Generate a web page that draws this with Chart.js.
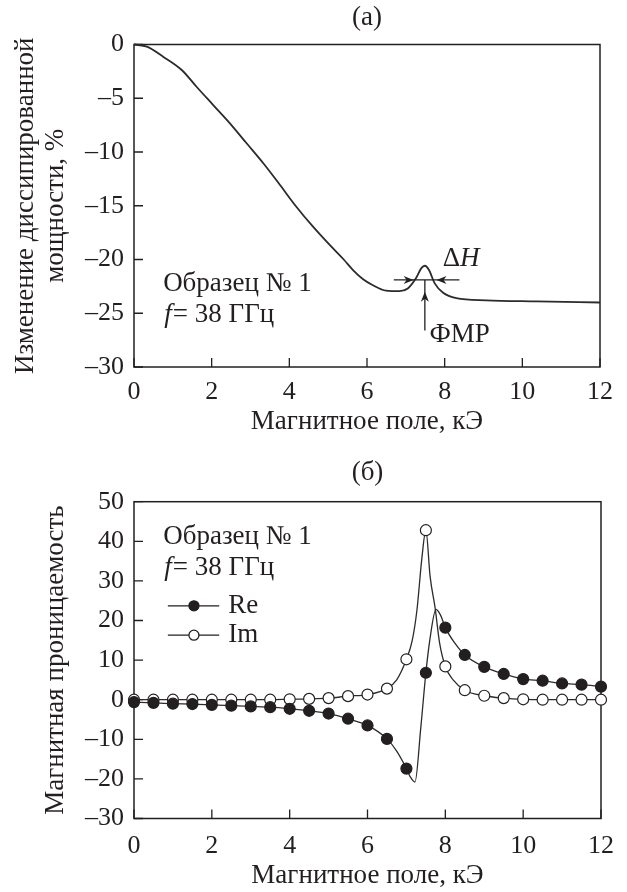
<!DOCTYPE html>
<html><head><meta charset="utf-8">
<script src="https://cdn.jsdelivr.net/npm/chart.js@4.4.0/dist/chart.umd.min.js"></script>
<style>
html,body{margin:0;padding:0;background:#fff;}
#wrap{position:relative;width:627px;height:892px;background:#fff;}
canvas{position:absolute;left:0;}
</style></head><body>
<div id="wrap">
<canvas id="c1" width="627" height="446" style="top:0;width:627px;height:446px"></canvas>
<canvas id="c2" width="627" height="446" style="top:446px;width:627px;height:446px"></canvas>
</div>
<script>
// ---------- data: chart (a) ----------
const fieldA = [0, 0.33, 0.75, 1.23, 1.61, 2.04, 2.47, 2.9, 3.33, 3.76, 4.18, 4.61, 5.04, 5.4, 5.64, 5.9, 6.14, 6.49, 6.84, 7.05, 7.26, 7.4, 7.49, 7.6, 7.74, 7.96, 8.3, 9.07, 10.36, 12];
const powerChangeA = [0, -0.2, -1.13, -2.37, -3.93, -5.63, -7.33, -9.19, -11.05, -13.07, -15.09, -16.95, -18.65, -20.0, -20.98, -21.84, -22.37, -22.9, -22.95, -22.7, -21.75, -20.8, -20.58, -21.0, -22.2, -23.1, -23.6, -23.8, -23.9, -24.0];
const xTickValues = [0, 2, 4, 6, 8, 10, 12];
const yTickValuesA = [0, -5, -10, -15, -20, -25, -30];

// ---------- data: chart (б) ----------
const fieldMarkers = [0, 0.5, 1, 1.5, 2, 2.5, 3, 3.5, 4, 4.5, 5, 5.5, 6, 6.5, 7, 7.5, 8, 8.5, 9, 9.5, 10, 10.5, 11, 11.5, 12];
const reMarkers = [-0.6, -0.8, -1.0, -1.1, -1.3, -1.5, -1.7, -1.9, -2.3, -2.8, -3.5, -4.8, -6.5, -9.9, -17.4, 6.8, 18.2, 11.3, 8.3, 6.5, 5.2, 4.8, 4.1, 3.8, 3.3];
const imMarkers = [0, 0, 0, 0, 0, 0, 0, 0, 0.1, 0.2, 0.4, 0.9, 1.3, 2.8, 10.2, 42.8, 8.4, 2.4, 1.0, 0.4, 0.1, 0, 0, 0, 0];
const fieldReCurve = [0, 0.5, 1, 1.5, 2, 2.5, 3, 3.5, 4, 4.5, 5, 5.5, 6, 6.5, 6.75, 7, 7.1, 7.22, 7.37, 7.5, 7.6, 7.76, 7.88, 8, 8.25, 8.5, 9, 9.5, 10, 10.5, 11, 11.5, 12];
const reCurve = [-0.6, -0.8, -1.0, -1.1, -1.3, -1.5, -1.7, -1.9, -2.3, -2.8, -3.5, -4.8, -6.5, -9.9, -13.0, -17.4, -19.5, -20.8, -7.0, 6.8, 15.0, 22.8, 21.3, 18.2, 14.2, 11.3, 8.3, 6.5, 5.2, 4.8, 4.1, 3.8, 3.3];
const fieldImCurve = [0, 0.5, 1, 1.5, 2, 2.5, 3, 3.5, 4, 4.5, 5, 5.5, 6, 6.5, 6.75, 7, 7.15, 7.27, 7.4, 7.5, 7.61, 7.74, 7.85, 8, 8.2, 8.5, 9, 9.5, 10, 10.5, 11, 11.5, 12];
const imCurve = [0, 0, 0, 0, 0, 0, 0, 0, 0.1, 0.2, 0.4, 0.9, 1.3, 2.8, 5.0, 10.2, 15.0, 22.6, 36.0, 42.8, 31.0, 23.0, 14.5, 8.4, 5.0, 2.4, 1.0, 0.4, 0.1, 0, 0, 0, 0];
const yTickValuesB = [50, 40, 30, 20, 10, 0, -10, -20, -30];

const titleA = '(a)';
const titleB = '(б)';
const xTitle = 'Магнитное поле, кЭ';
const yTitleA = ['Изменение диссипированной', 'мощности, %'];
const yTitleB = 'Магнитная проницаемость';
const sampleLabel = 'Образец № 1';
const freqLabel = '= 38 ГГц';
const seriesNames = ['Re', 'Im'];

// ---------- style ----------
const FONT = "'Liberation Serif','Times New Roman',serif";
const INK = '#231f20';
const FS = 27;   // text
const TS = 26;   // tick labels

const pts = (xs, ys) => xs.map((x, i) => ({x, y: ys[i]}));
const dash = v => String(v).replace('-', '\u2013');

function xScale(tickValues, height, tickPad, titlePadBottom) {
  return {
    type: 'linear', min: 0, max: 12,
    afterBuildTicks: s => { s.ticks = tickValues.map(v => ({value: v})); },
    afterFit: s => { s.height = height; },
    grid: {display: false, drawTicks: false},
    border: {display: false},
    ticks: {color: INK, font: {family: FONT, size: TS, lineHeight: 1.2}, padding: tickPad, maxRotation: 0, autoSkip: false, callback: dash},
    title: {display: true, text: xTitle, color: INK, font: {family: FONT, size: FS, lineHeight: 1.2}, padding: {top: 0, bottom: titlePadBottom}}
  };
}
function yScale(tickValues, min, max, title, titlePadTop) {
  return {
    type: 'linear', min, max,
    afterBuildTicks: s => { s.ticks = tickValues.map(v => ({value: v})); },
    afterFit: s => { s.width = 134; },
    grid: {display: false, drawTicks: false},
    border: {display: false},
    ticks: {color: INK, font: {family: FONT, size: TS}, padding: 10, autoSkip: false, callback: dash},
    title: {display: true, text: title, color: INK, font: {family: FONT, size: FS, lineHeight: 1.1}, padding: {top: titlePadTop, bottom: 0}}
  };
}

const frame = {
  id: 'frame',
  beforeDatasetsDraw(chart) {
    const {ctx, chartArea: a, scales: {x, y}} = chart;
    ctx.save();
    ctx.strokeStyle = INK; ctx.lineWidth = 1.5;
    ctx.strokeRect(a.left, a.top, a.right - a.left, a.bottom - a.top);
    ctx.lineWidth = 1.3;
    ctx.beginPath();
    x.ticks.forEach(t => { const px = x.getPixelForValue(t.value); ctx.moveTo(px, a.bottom); ctx.lineTo(px, a.bottom - 9); });
    y.ticks.forEach(t => { const py = y.getPixelForValue(t.value); ctx.moveTo(a.left, py); ctx.lineTo(a.left + 9, py); });
    ctx.stroke();
    ctx.restore();
  }
};

function arrowHead(ctx, tx, ty, dx, dy, len, half) {
  ctx.beginPath();
  ctx.moveTo(tx, ty);
  ctx.lineTo(tx - dx * len - dy * half, ty - dy * len + dx * half);
  ctx.lineTo(tx - dx * len * 0.7, ty - dy * len * 0.7);
  ctx.lineTo(tx - dx * len + dy * half, ty - dy * len - dx * half);
  ctx.closePath(); ctx.fill();
}

function sampleText(ctx, x, y, xv, yv1, yv2) {
  ctx.fillStyle = INK; ctx.textBaseline = 'middle'; ctx.textAlign = 'left';
  ctx.font = `${FS}px ${FONT}`;
  ctx.fillText(sampleLabel, x.getPixelForValue(xv), y.getPixelForValue(yv1));
  ctx.font = `italic ${FS}px ${FONT}`;
  const fx = x.getPixelForValue(xv + 0.03), fy = y.getPixelForValue(yv2);
  ctx.fillText('f', fx, fy);
  const fw = ctx.measureText('f').width;
  ctx.font = `${FS}px ${FONT}`;
  ctx.fillText(freqLabel, fx + fw + 1, fy);
}

const annotA = {
  id: 'annotA',
  afterDatasetsDraw(chart) {
    const {ctx, scales: {x, y}} = chart;
    ctx.save();
    sampleText(ctx, x, y, 0.75, -22.3, -25.2);
    // ΔH
    ctx.font = `${FS}px ${FONT}`;
    const dhx = x.getPixelForValue(7.95), dhy = y.getPixelForValue(-19.9);
    ctx.fillText('Δ', dhx, dhy);
    const dw = ctx.measureText('Δ').width;
    ctx.font = `italic ${FS}px ${FONT}`;
    ctx.fillText('H', dhx + dw, dhy);
    // ФМР
    ctx.font = `${FS}px ${FONT}`;
    ctx.fillText('ФМР', x.getPixelForValue(7.61), y.getPixelForValue(-27.0));
    // arrows
    ctx.strokeStyle = INK; ctx.fillStyle = INK; ctx.lineWidth = 1.3;
    const hy = y.getPixelForValue(-21.9);
    ctx.beginPath();
    ctx.moveTo(x.getPixelForValue(6.69), hy); ctx.lineTo(x.getPixelForValue(8.38), hy);
    const vx = x.getPixelForValue(7.49);
    ctx.moveTo(vx, hy); ctx.lineTo(vx, y.getPixelForValue(-26.6));
    ctx.stroke();
    arrowHead(ctx, x.getPixelForValue(7.2), hy, 1, 0, 10, 4);
    arrowHead(ctx, x.getPixelForValue(7.79), hy, -1, 0, 10, 4);
    arrowHead(ctx, vx, y.getPixelForValue(-23.0), 0, -1, 10, 4);
    ctx.restore();
  }
};

const annotB = {
  id: 'annotB',
  afterDatasetsDraw(chart) {
    const {ctx, scales: {x, y}} = chart;
    ctx.save();
    sampleText(ctx, x, y, 0.75, 41.1, 33.4);
    const rows = [{y: 23.7, filled: true}, {y: 16.3, filled: false}];
    rows.forEach((r, i) => {
      const py = y.getPixelForValue(r.y);
      ctx.strokeStyle = INK; ctx.lineWidth = 1.3;
      ctx.beginPath(); ctx.moveTo(x.getPixelForValue(0.87), py); ctx.lineTo(x.getPixelForValue(2.19), py); ctx.stroke();
      ctx.beginPath(); ctx.arc(x.getPixelForValue(1.54), py, 5, 0, Math.PI * 2);
      ctx.fillStyle = r.filled ? INK : '#fff'; ctx.fill(); ctx.stroke();
      ctx.fillStyle = INK; ctx.font = `${FS}px ${FONT}`; ctx.textBaseline = 'middle'; ctx.textAlign = 'left';
      ctx.fillText(seriesNames[i], x.getPixelForValue(2.42), py);
    });
    ctx.restore();
  }
};

Chart.defaults.animation = false;

new Chart(document.getElementById('c1'), {
  type: 'scatter',
  data: {datasets: [{
    data: pts(fieldA, powerChangeA), showLine: true, pointRadius: 0,
    borderColor: '#2b2b2b', borderWidth: 1.8, cubicInterpolationMode: 'monotone', clip: false
  }]},
  options: {
    responsive: false, animation: false, events: [],
    layout: {padding: {left: 0, right: 27, top: 0, bottom: 0}},
    plugins: {
      legend: {display: false}, tooltip: {enabled: false},
      title: {display: true, text: titleA, fullSize: false, color: INK, font: {family: FONT, size: FS, weight: 'normal', lineHeight: 1.2}, padding: {top: 1.8, bottom: 10.3}}
    },
    scales: {x: xScale(xTickValues, 79, 9.9, 8.2), y: yScale(yTickValuesA, -30, 0, yTitleA, 11.2)}
  },
  plugins: [frame, annotA]
});

new Chart(document.getElementById('c2'), {
  type: 'scatter',
  data: {datasets: [
    {data: pts(fieldMarkers, reMarkers), showLine: false, pointRadius: 5.5, pointBackgroundColor: INK, pointBorderColor: INK, pointBorderWidth: 1.2, clip: false},
    {data: pts(fieldMarkers, imMarkers), showLine: false, pointRadius: 5.5, pointBackgroundColor: '#fff', pointBorderColor: INK, pointBorderWidth: 1.2, clip: false},
    {data: pts(fieldReCurve, reCurve), showLine: true, pointRadius: 0, borderColor: '#2b2b2b', borderWidth: 1.3, cubicInterpolationMode: 'monotone', clip: false},
    {data: pts(fieldImCurve, imCurve), showLine: true, pointRadius: 0, borderColor: '#2b2b2b', borderWidth: 1.3, cubicInterpolationMode: 'monotone', clip: false}
  ]},
  options: {
    responsive: false, animation: false, events: [],
    layout: {padding: {left: 0, right: 26, top: 0, bottom: 0}},
    plugins: {
      legend: {display: false}, tooltip: {enabled: false},
      title: {display: true, text: titleB, fullSize: false, color: INK, font: {family: FONT, size: FS, weight: 'normal', lineHeight: 1.2}, padding: {top: 10.8, bottom: 12.5}}
    },
    scales: {x: xScale(xTickValues, 73.5, 12.4, 0.2), y: yScale(yTickValuesB, -30, 50, yTitleB, 41.2)}
  },
  plugins: [frame, annotB]
});
</script>
</body></html>
